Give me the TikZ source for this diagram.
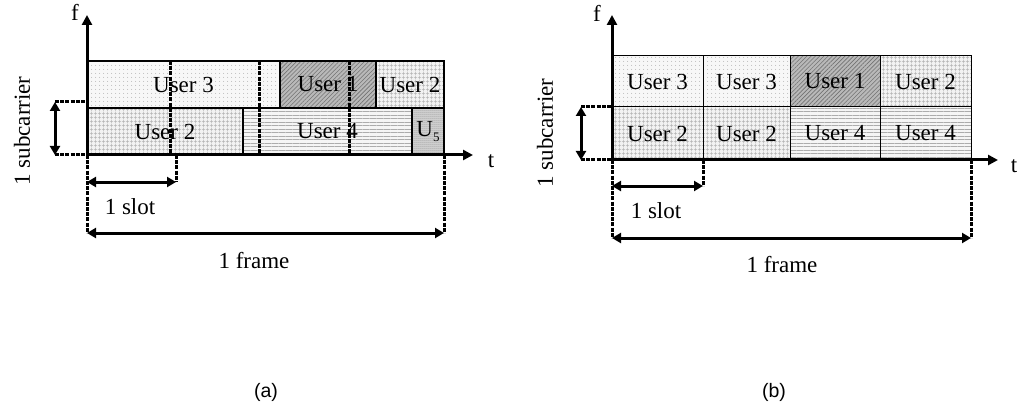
\documentclass[tikz,border=0pt]{standalone}
\usepackage{fontspec}
\setmainfont{Liberation Serif}
\newfontfamily\labfont{Liberation Sans}
\usetikzlibrary{arrows.meta,patterns.meta}
\begin{document}
\begin{tikzpicture}[x=1pt,y=-1pt,
  txt/.style={font=\fontsize{23}{27}\selectfont},
  cell/.style={draw=black,line width=1.3pt,inner sep=0pt,outer sep=0pt,anchor=north west,txt},
  cellb/.style={cell,line width=1pt},
  uthree/.style={preaction={fill=gray!6},pattern={Dots[distance=4pt,radius=0.5pt]},pattern color=gray!75},
  utwo/.style={preaction={fill=gray!10},pattern={Hatch[angle=0,distance=4pt,line width=0.55pt]},pattern color=gray!60},
  uone/.style={preaction={fill=gray!55},pattern={Lines[angle=45,distance=3pt,line width=0.6pt]},pattern color=gray!90!black},
  ufour/.style={preaction={fill=gray!8},pattern={Lines[angle=0,distance=3.5pt,line width=0.7pt]},pattern color=gray!65},
  ufive/.style={preaction={fill=gray!30},pattern={Dots[distance=2pt,radius=0.5pt]},pattern color=black!65},
  axis/.style={line width=3pt,-{Triangle[length=10pt,width=10pt]}},
  dim/.style={line width=3pt,{Triangle[length=9pt,width=10pt]}-{Triangle[length=9pt,width=10pt]}},
  guide/.style={line width=3pt,dash pattern=on 4pt off 1.2pt},
  slotline/.style={line width=3pt,dash pattern=on 4pt off 1.2pt},
  lab/.style={font=\labfont\fontsize{19.5}{23}\selectfont}
]
\useasboundingbox (0,0) rectangle (1020,409);

% ================= (a) =================
\node[cell,uthree,minimum width=193pt,minimum height=47pt] (a3) at (87,61) {User 3};
\node[cell,uone,minimum width=96pt,minimum height=47pt] (a1) at (280,61) {User 1};
\node[cell,utwo,minimum width=68pt,minimum height=47pt] (a2t) at (376,61) {User 2};
\node[cell,utwo,minimum width=156pt,minimum height=47pt] (a2) at (87,108) {User 2};
\node[cell,ufour,minimum width=169pt,minimum height=47pt] (a4) at (243,108) {User 4};
\node[cell,ufive,minimum width=32pt,minimum height=47pt] (a5) at (412,108) {U\raisebox{-5pt}{\fontsize{13}{13}\selectfont 5}};
% slot boundaries
\foreach \x in {170,259,349}{
  \draw[slotline] (\x,61) -- (\x,155);
}
% axes
\coordinate (aO) at (87,155);
\coordinate (afTop) at (87,15);
\coordinate (atEnd) at (473,155);
\draw[axis] (aO) -- (afTop);
\draw[axis] (aO) -- (atEnd);
\node[txt] (af) at (75,12) {f};
\node[txt] (at) at (491,161) {t};
% subcarrier
\coordinate (asT) at (55,102);
\coordinate (asB) at (55,155);
\draw[guide] (asT) -- (87,102);
\draw[guide] (asB) -- (aO);
\draw[dim] (asT) -- (asB);
\node[txt,rotate=90] (asub) at (22,131) {1 subcarrier};
% slot
\coordinate (aslA) at (87,182);
\coordinate (aslB) at (176,182);
\draw[guide] (176,155) -- (aslB);
\draw[dim] (aslA) -- (aslB);
\node[txt] (aslot) at (130,207) {1 slot};
% frame
\coordinate (afrA) at (87,233);
\coordinate (afrB) at (444,233);
\draw[guide] (aO) -- (afrA);
\draw[guide] (444,155) -- (afrB);
\draw[dim] (afrA) -- (afrB);
\node[txt] (aframe) at (254,261) {1 frame};
\node[lab] (la) at (266,392) {(a)};

% ================= (b) =================
\node[cellb,uthree,minimum width=91pt,minimum height=51pt] (b31) at (612,56) {User 3};
\node[cellb,uthree,minimum width=87pt,minimum height=51pt] (b32) at (703,56) {User 3};
\node[cellb,uone,minimum width=90pt,minimum height=51pt] (b1) at (790,56) {User 1};
\node[cellb,utwo,minimum width=91pt,minimum height=51pt] (b2t) at (880,56) {User 2};
\node[cellb,utwo,minimum width=91pt,minimum height=53pt] (b21) at (612,107) {User 2};
\node[cellb,utwo,minimum width=87pt,minimum height=53pt] (b22) at (703,107) {User 2};
\node[cellb,ufour,minimum width=90pt,minimum height=53pt] (b41) at (790,107) {User 4};
\node[cellb,ufour,minimum width=91pt,minimum height=53pt] (b42) at (880,107) {User 4};
% axes
\coordinate (bO) at (612,160);
\coordinate (bfTop) at (612,15);
\coordinate (btEnd) at (998,160);
\draw[axis] (bO) -- (bfTop);
\draw[axis] (bO) -- (btEnd);
\node[txt] (bf) at (597,13) {f};
\node[txt] (bt) at (1014,166) {t};
% subcarrier
\coordinate (bsT) at (581,107);
\coordinate (bsB) at (581,160);
\draw[guide] (bsT) -- (612,107);
\draw[guide] (bsB) -- (bO);
\draw[dim] (bsT) -- (bsB);
\node[txt,rotate=90] (bsub) at (545,133) {1 subcarrier};
% slot
\coordinate (bslA) at (612,186);
\coordinate (bslB) at (703,186);
\draw[guide] (703,160) -- (bslB);
\draw[dim] (bslA) -- (bslB);
\node[txt] (bslot) at (656,211) {1 slot};
% frame
\coordinate (bfrA) at (612,238);
\coordinate (bfrB) at (971,238);
\draw[guide] (bO) -- (bfrA);
\draw[guide] (971,160) -- (bfrB);
\draw[dim] (bfrA) -- (bfrB);
\node[txt] (bframe) at (782,265) {1 frame};
\node[lab] (lb) at (774,392) {(b)};
\end{tikzpicture}
\end{document}
